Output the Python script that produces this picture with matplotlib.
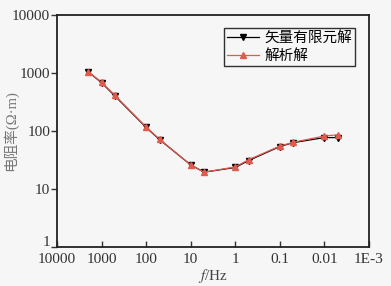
import matplotlib
matplotlib.use("Agg")
import matplotlib.pyplot as plt
import matplotlib.transforms as mtrans
from matplotlib.ticker import FixedLocator, FixedFormatter, NullLocator

plt.rcParams["font.family"] = ["Liberation Serif", "Noto Sans CJK SC"]
plt.rcParams["mathtext.fontset"] = "stix"

# 频率 (Hz) 与视电阻率 (Ω·m)
freq = [2000, 1000, 500, 100, 50, 10, 5, 1, 0.5, 0.1, 0.05, 0.01, 0.005]
rho_fem = [1050, 680, 400, 115, 71, 26, 19.5, 23.5, 31, 54, 63, 77, 77]
rho_ana = [1060, 690, 410, 117, 72, 26, 19.5, 24, 32, 55, 64, 82, 86]

xticks = [10000, 1000, 100, 10, 1, 0.1, 0.01, 0.001]
xlabels = ["10000", "1000", "100", "10", "1", "0.1", "0.01", "1E-3"]
yticks = [1, 10, 100, 1000, 10000]
ylabels = ["1", "10", "100", "1000", "10000"]

bg = "#f6f6f6"
fig = plt.figure(figsize=(3.91, 2.86), dpi=100, facecolor=bg)
ax = fig.add_axes([57 / 391, 1 - 247 / 286, 312 / 391, 232 / 286], facecolor=bg)

ax.plot(freq, rho_fem, color="black", lw=0.9, marker="v", ms=5,
        mfc="black", mec="black", label="矢量有限元解", zorder=3)
ax.plot(freq, rho_ana, color="#e05a4e", lw=0.9, marker="^", ms=5,
        mfc="#e05a4e", mec="#e05a4e", label="解析解", zorder=4)

ax.set_xscale("log")
ax.set_yscale("log")
ax.set_xlim(10000, 0.001)
ax.set_ylim(1, 10000)

ax.xaxis.set_major_locator(FixedLocator(xticks))
ax.xaxis.set_major_formatter(FixedFormatter(xlabels))
ax.xaxis.set_minor_locator(NullLocator())
ax.yaxis.set_major_locator(FixedLocator(yticks))
ax.yaxis.set_major_formatter(FixedFormatter(ylabels))
ax.yaxis.set_minor_locator(NullLocator())

ax.tick_params(axis="x", direction="in", length=4, width=1, labelsize=11, pad=4, colors="#333333")
ax.tick_params(axis="y", direction="out", length=4, width=1, labelsize=11, pad=1, colors="#333333")
for s in ax.spines.values():
    s.set_linewidth(1.3)
    s.set_color("#222222")

# 让 y 轴的 "1" 稍微上移，避免与 x 轴 "10000" 重叠
lab1 = ax.yaxis.get_major_ticks()[0].label1
lab1.set_transform(lab1.get_transform() + mtrans.ScaledTranslation(0, 4 / 72, fig.dpi_scale_trans))

ax.set_xlabel("$f$/Hz", fontsize=11, color="#444444", labelpad=1)
ax.set_ylabel("电阻率(Ω·m)", fontsize=10.5, color="#777777")
ax.yaxis.set_label_coords(-39 / 312, 0.5)

leg = ax.legend(loc="upper right", bbox_to_anchor=(0.98, 0.975),
                prop={"family": ["Noto Sans CJK SC"], "size": 10.5},
                frameon=True, fancybox=False, edgecolor="black",
                handlelength=2.2, borderpad=0.2, labelspacing=0.3, handletextpad=0.4)
leg.get_frame().set_linewidth(1.0)
leg.get_frame().set_facecolor(bg)

fig.savefig("out.png", dpi=100, facecolor=bg)
